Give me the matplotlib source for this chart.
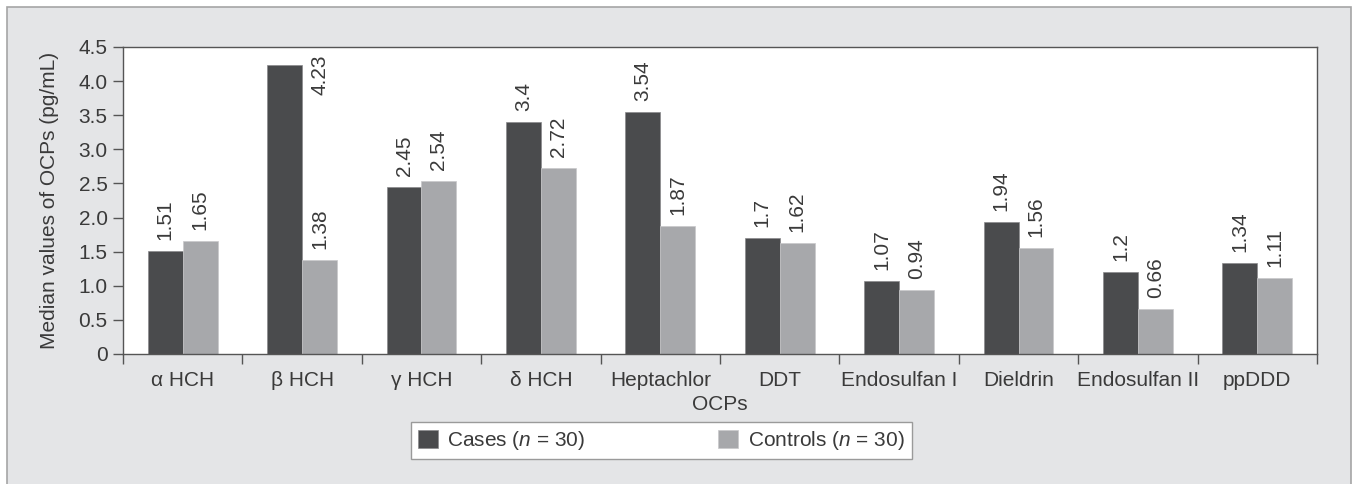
import numpy as np
import matplotlib
matplotlib.use("Agg")
import matplotlib.pyplot as plt
from matplotlib.patches import Rectangle

plt.rcParams['font.family'] = ['Liberation Sans', 'DejaVu Sans']
plt.rcParams['mathtext.fontset'] = 'custom'
plt.rcParams['mathtext.it'] = 'Liberation Sans:italic'
plt.rcParams['mathtext.rm'] = 'Liberation Sans'

# data
categories = ['α HCH', 'β HCH', 'γ HCH', 'δ HCH', 'Heptachlor', 'DDT',
              'Endosulfan I', 'Dieldrin', 'Endosulfan II', 'ppDDD']
cases = [1.51, 4.23, 2.45, 3.4, 3.54, 1.7, 1.07, 1.94, 1.2, 1.34]
controls = [1.65, 1.38, 2.54, 2.72, 1.87, 1.62, 0.94, 1.56, 0.66, 1.11]
case_labels = ['1.51', '4.23', '2.45', '3.4', '3.54', '1.7', '1.07', '1.94', '1.2', '1.34']
control_labels = ['1.65', '1.38', '2.54', '2.72', '1.87', '1.62', '0.94', '1.56', '0.66', '1.11']
yticks = [0, 0.5, 1.0, 1.5, 2.0, 2.5, 3.0, 3.5, 4.0, 4.5]
ytick_labels = ['0', '0.5', '1.0', '1.5', '2.0', '2.5', '3.0', '3.5', '4.0', '4.5']

dark = '#4a4b4d'
light = '#a7a8ab'
txt = '#3a3a3a'
axcol = '#555555'
fs = 15

fig = plt.figure(figsize=(13.53, 4.84), dpi=100, facecolor='white')
# grey panel behind the chart
fig.patches.append(Rectangle((7 / 1353, -0.1), 1344 / 1353, 1.1 - 7 / 484,
                             transform=fig.transFigure, facecolor='#e4e5e7',
                             edgecolor='#a5a5a5', linewidth=1.2, zorder=-10))

ax = fig.add_axes([0.0909, 0.2686, 0.8825, 0.6343])
ax.set_facecolor('white')

x = np.arange(len(categories))
w = 0.293
b1 = ax.bar(x - w / 2, cases, w, color=dark, edgecolor='#8a8a8c', linewidth=0.5,
            label='Cases ($n$ = 30)')
b2 = ax.bar(x + w / 2, controls, w, color=light, edgecolor='#c8c8ca', linewidth=0.5,
            label='Controls ($n$ = 30)')

for i in range(len(categories)):
    if cases[i] > 4.0:
        # tall bar: label sits beside it at the top of the plot
        ax.annotate(case_labels[i], (x[i] + w / 2, cases[i]), xytext=(0, 11),
                    textcoords='offset pixels', rotation=90, ha='center', va='top',
                    fontsize=fs, color=txt)
    else:
        ax.annotate(case_labels[i], (x[i] - w / 2, cases[i]), xytext=(0, 11),
                    textcoords='offset pixels', rotation=90, ha='center', va='bottom',
                    fontsize=fs, color=txt)
    ax.annotate(control_labels[i], (x[i] + w / 2, controls[i]), xytext=(0, 11),
                textcoords='offset pixels', rotation=90, ha='center', va='bottom',
                fontsize=fs, color=txt)

ax.set_xlim(-0.5, len(categories) - 0.5)
ax.set_ylim(0, 4.5)
ax.set_yticks(yticks)
ax.set_yticklabels(ytick_labels)
ax.set_xticks(x)
ax.set_xticklabels(categories)
ax.set_xticks(np.arange(-0.5, len(categories), 1.0), minor=True)
ax.tick_params(axis='x', which='major', length=0, pad=12, labelsize=fs, labelcolor=txt)
ax.tick_params(axis='x', which='minor', length=7, width=1.0, color=axcol, direction='out')
ax.tick_params(axis='y', length=7, width=1.0, color=axcol, pad=4, labelsize=fs,
               labelcolor=txt, direction='out')
for s in ax.spines.values():
    s.set_color(axcol)
    s.set_linewidth(1.0)

ax.set_xlabel('OCPs', fontsize=fs, color=txt, labelpad=4)
ax.set_ylabel('Median values of OCPs (pg/mL)', fontsize=fs, color=txt, labelpad=14)

leg = fig.legend(handles=[b1, b2], loc='center', bbox_to_anchor=(0.4886, 0.0899),
                 ncol=2, fontsize=fs, frameon=True, fancybox=False,
                 edgecolor='#9a9a9a', facecolor='white', framealpha=1,
                 columnspacing=6.4, handlelength=0.95, handleheight=0.95,
                 handletextpad=0.45, borderpad=0.35, borderaxespad=0)
leg.get_frame().set_linewidth(1.0)
for t in leg.get_texts():
    t.set_color(txt)

fig.savefig('out.png', dpi=100, facecolor=fig.get_facecolor())
